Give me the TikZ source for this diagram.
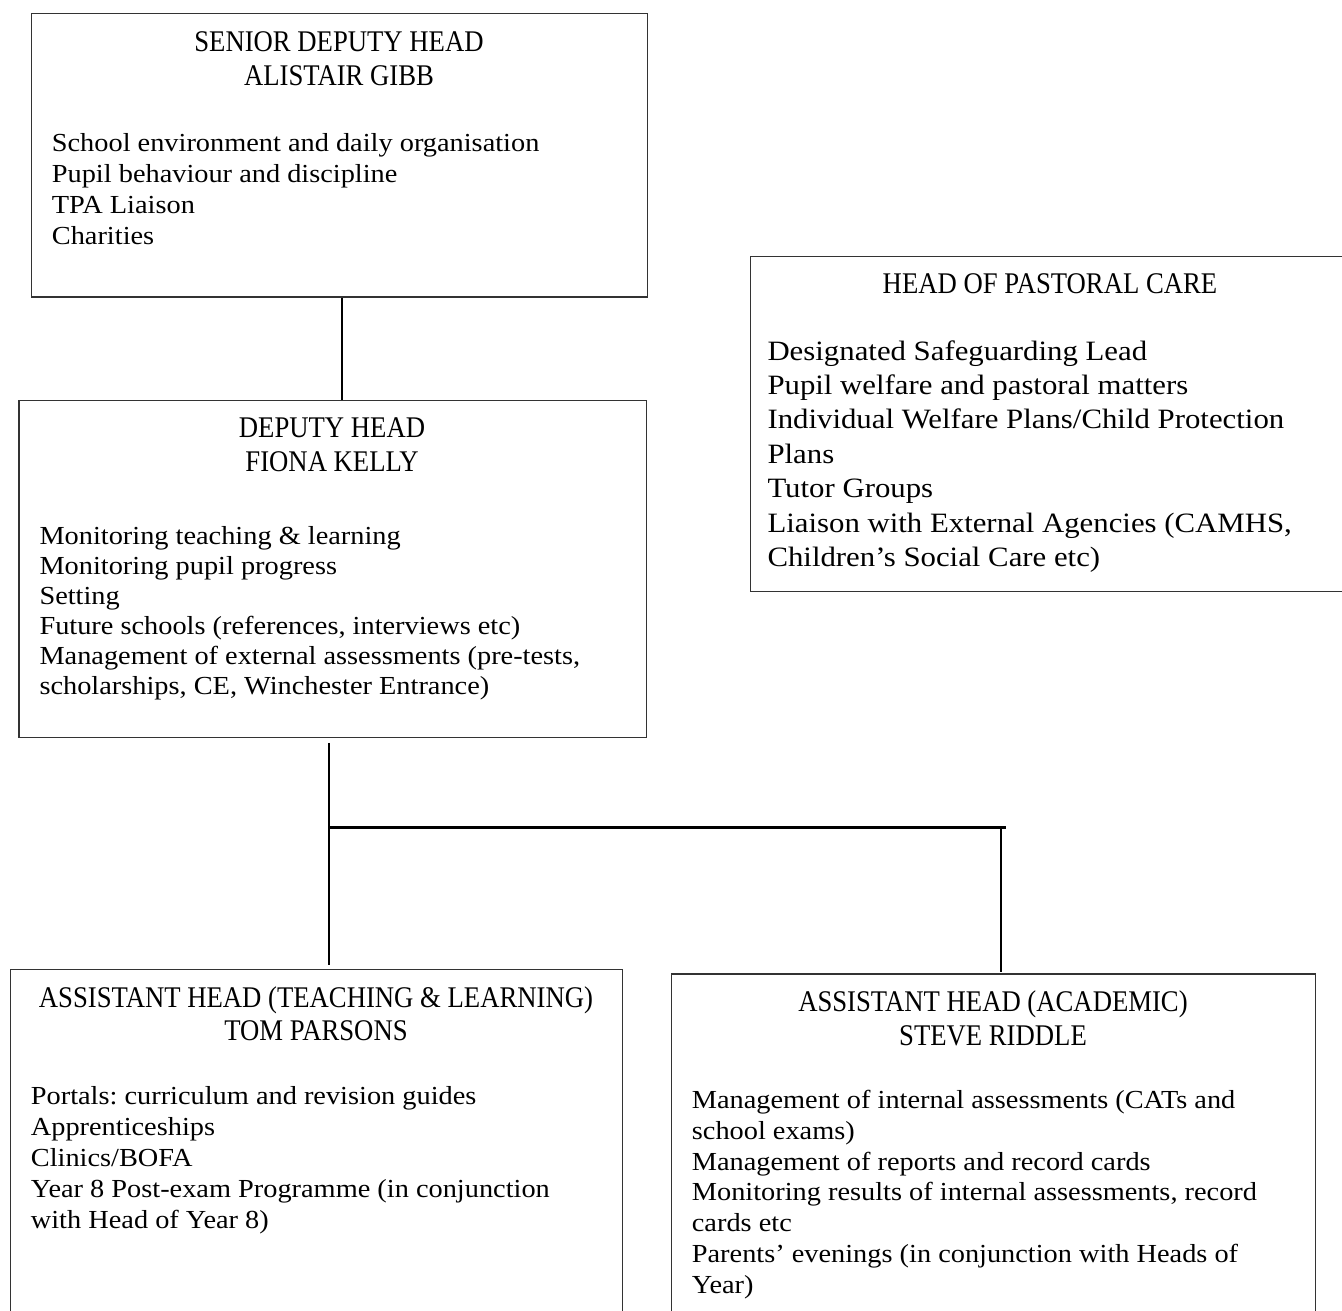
\documentclass[tikz,border=0pt]{standalone}
\usepackage{fontspec}
\setmainfont{Liberation Serif}
\newfontfamily\itemfont{Liberation Serif}[FakeStretch=1.09]
\newfontfamily\pastfont{Liberation Serif}[FakeStretch=1.1]
\newfontfamily\ttlfont{Liberation Serif}[FakeStretch=0.89]
\frenchspacing
\tikzset{
  orgbox/.style={draw=black!80, line width=1.2pt, rectangle, inner sep=0pt, anchor=north west},
  ttl/.style={font=\ttlfont\fontsize{30}{34}\selectfont, inner sep=0pt, anchor=base},
  itm/.style={font=\itemfont\fontsize{26}{31}\selectfont, inner sep=0pt, anchor=base west},
  pitm/.style={font=\pastfont\fontsize{28}{34}\selectfont, inner sep=0pt, anchor=base west},
  link/.style={line width=1.5pt, black},
  bar/.style={line width=2.8pt, black},
}
\begin{document}
\begin{tikzpicture}[x=1pt,y=-1pt]
\useasboundingbox (0,0) rectangle (1342,1310);
\clip (0,0) rectangle (1342,1310);

% boxes
\node[orgbox, minimum width=615.7pt, minimum height=283.6pt] (b1) at (31,12.7) {};
\node[orgbox, minimum width=627.7pt, minimum height=336.7pt] (b2) at (18.3,400) {};
\node[orgbox, minimum width=600pt, minimum height=334.7pt] (b3) at (750,256) {};
\node[orgbox, minimum width=612pt, minimum height=361pt] (b4) at (10,969) {};
\node[orgbox, minimum width=644pt, minimum height=357pt] (b5) at (671,973.3) {};

% box 1
\node[ttl] (b1t1) at (339,51.7) {SENIOR DEPUTY HEAD};
\node[ttl] (b1t2) at (339,85) {ALISTAIR GIBB};
\foreach \txt [count=\i from 0] in {{School environment and daily organisation},{Pupil behaviour and discipline},{TPA Liaison},{Charities}}
  \node[itm] (b1l\i) at (51.7,{151.7+31*\i}) {\txt};

% box 2
\node[ttl] (b2t1) at (332,437) {DEPUTY HEAD};
\node[ttl] (b2t2) at (332,471) {FIONA KELLY};
\foreach \txt [count=\i from 0] in {{Monitoring teaching \& learning},{Monitoring pupil progress},{Setting},{Future schools (references, interviews etc)},{Management of external assessments (pre-tests,},{scholarships, CE, Winchester Entrance)}}
  \node[itm] (b2l\i) at (39.3,{544+30*\i}) {\txt};

% box 3
\node[ttl] (b3t1) at (1050,293.3) {HEAD OF PASTORAL CARE};
\foreach \txt [count=\i from 0] in {{Designated Safeguarding Lead},{Pupil welfare and pastoral matters},{Individual Welfare Plans/Child Protection},{Plans},{Tutor Groups},{Liaison with External Agencies (CAMHS,},{Children’s Social Care etc)}}
  \node[pitm] (b3l\i) at (767.3,{360+34.4*\i}) {\txt};

% box 4
\node[ttl] (b4t1) at (316,1007.3) {ASSISTANT HEAD (TEACHING \& LEARNING)};
\node[ttl] (b4t2) at (316,1040) {TOM PARSONS};
\foreach \txt [count=\i from 0] in {{Portals: curriculum and revision guides},{Apprenticeships},{Clinics/BOFA},{Year 8 Post-exam Programme (in conjunction},{with Head of Year 8)}}
  \node[itm] (b4l\i) at (30.7,{1104+31*\i}) {\txt};

% box 5
\node[ttl] (b5t1) at (993,1011.7) {ASSISTANT HEAD (ACADEMIC)};
\node[ttl] (b5t2) at (993,1045) {STEVE RIDDLE};
\foreach \txt [count=\i from 0] in {{Management of internal assessments (CATs and},{school exams)},{Management of reports and record cards},{Monitoring results of internal assessments, record},{cards etc},{Parents’ evenings (in conjunction with Heads of},{Year)}}
  \node[itm] (b5l\i) at (691.7,{1108.5+30.8*\i}) {\txt};

% connectors
\coordinate (k1) at (342,0);
\draw[link] (b1.south -| k1) -- (b2.north -| k1);
\coordinate (k2) at (329,0);
\draw[link, shorten <=5pt, shorten >=4.4pt] (b2.south -| k2) -- (b4.north -| k2);
\coordinate (barL) at (329,827.3);
\coordinate (barR) at (1005.6,827.3);
\draw[bar] (barL) -- (barR);
\coordinate (k3) at (1000.8,827.3);
\draw[link, shorten >=1.7pt] (k3) -- (b5.north -| k3);
\end{tikzpicture}
\end{document}
